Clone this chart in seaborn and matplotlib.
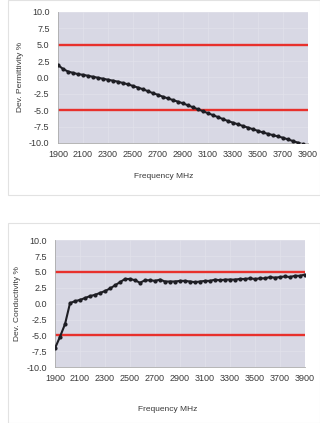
import matplotlib
matplotlib.use("Agg")

import matplotlib.pyplot as plt
import matplotlib.patches as mpatches
import pandas as pd
import seaborn as sns

# Frequency sweep (MHz) and measured deviations (%)
freq = list(range(1900, 3901, 40))
permittivity = [1.9, 1.3, 0.9, 0.7, 0.5, 0.4, 0.25, 0.1, -0.05, -0.2,
                -0.35, -0.5, -0.65, -0.85, -1.05, -1.3, -1.55, -1.8, -2.1, -2.4,
                -2.65, -2.95, -3.2, -3.45, -3.7, -3.95, -4.25, -4.55, -4.85, -5.15,
                -5.45, -5.75, -6.05, -6.35, -6.65, -6.9, -7.15, -7.4, -7.65, -7.9,
                -8.15, -8.4, -8.6, -8.8, -9.0, -9.2, -9.45, -9.7, -9.95, -10.2,
                -10.45]
conductivity = [-7.0, -5.2, -3.2, 0.1, 0.4, 0.6, 0.9, 1.2, 1.4, 1.7,
                2.0, 2.4, 2.9, 3.4, 3.9, 3.9, 3.7, 3.3, 3.7, 3.7,
                3.6, 3.8, 3.5, 3.5, 3.5, 3.6, 3.6, 3.5, 3.4, 3.5,
                3.6, 3.6, 3.8, 3.7, 3.8, 3.8, 3.8, 3.9, 3.9, 4.0,
                3.9, 4.0, 4.0, 4.2, 4.1, 4.2, 4.3, 4.2, 4.4, 4.4,
                4.6]
limits = [5.0, -5.0]
xticks = list(range(1900, 3901, 200))
yticks = [-10.0, -7.5, -5.0, -2.5, 0.0, 2.5, 5.0, 7.5, 10.0]

sns.set_style("white")
plt.rcParams['font.family'] = ['Liberation Sans', 'DejaVu Sans']

df = pd.DataFrame({"freq": freq, "perm": permittivity, "cond": conductivity})

fig = plt.figure(figsize=(3.2, 4.23), dpi=100)
fig.patch.set_facecolor("white")

# faint panel frames like the pasted chart objects
for (x0, y0, w, h) in [(8, 228, 312, 195), (8, 0, 312, 200)]:
    fig.patches.append(mpatches.Rectangle((x0 / 320, y0 / 423), w / 320, h / 423,
                                          transform=fig.transFigure, fill=False,
                                          edgecolor="#e2e2e2", linewidth=0.8))

panels = [
    ([0.181, 0.662, 0.781, 0.310], "perm", "Dev. Permittivity %", 0.511, 0.582),
    ([0.172, 0.132, 0.781, 0.300], "cond", "Dev. Conductivity %", 0.525, 0.031),
]

for rect, col, ylabel, xlab_x, xlab_y in panels:
    ax = fig.add_axes(rect)
    ax.set_facecolor("#d8d8e4")
    ax.grid(True, color="#e2e2ea", linewidth=0.5)
    for lim in limits:
        ax.axhline(lim, color="#e8312c", linewidth=1.7, zorder=2)
    sns.lineplot(data=df, x="freq", y=col, ax=ax, color="#1e1e24",
                 linewidth=1.5, marker="o", markersize=3,
                 markeredgewidth=0, zorder=3)
    ax.set_xlim(1900, 3900)
    ax.set_ylim(-10, 10)
    ax.set_xticks(xticks)
    ax.set_yticks(yticks)
    ax.set_yticklabels([f"{v:.1f}" for v in yticks])
    ax.tick_params(axis="both", labelsize=6.5, length=2, width=0.5,
                   colors="#3a3a3a", pad=4)
    ax.tick_params(axis="x", length=0, pad=5)
    ax.set_xlabel("")
    ax.set_ylabel(ylabel, fontsize=6, color="#3a3a3a", labelpad=4)
    for side in ["top", "right"]:
        ax.spines[side].set_visible(False)
    for side in ["left", "bottom"]:
        ax.spines[side].set_color("#aaaaaa")
        ax.spines[side].set_linewidth(0.6)
    fig.text(xlab_x, xlab_y, "Frequency MHz", fontsize=6, color="#3a3a3a",
             ha="center", va="center")

fig.savefig("out.png", dpi=100)
